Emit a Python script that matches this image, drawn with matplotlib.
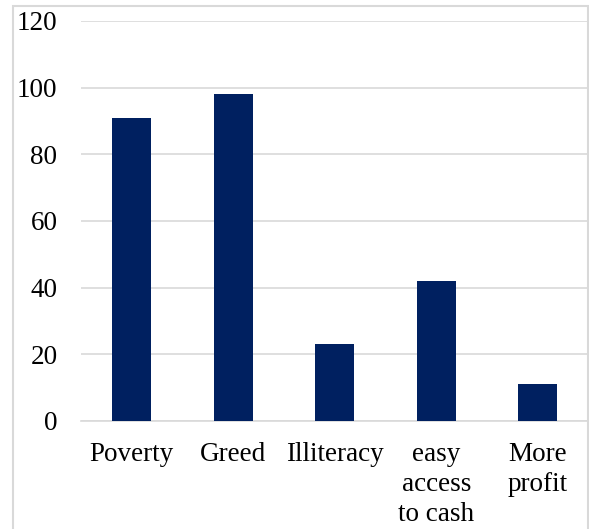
import matplotlib.pyplot as plt
from matplotlib.patches import Rectangle

# Reasons and counts
categories = ["Poverty", "Greed", "Illiteracy", "easy\naccess\nto cash", "More\nprofit"]
counts = [91, 98, 23, 42, 11]
yticks = [0, 20, 40, 60, 80, 100, 120]

plt.rcParams['font.family'] = ['Liberation Serif', 'DejaVu Serif']

fig = plt.figure(figsize=(5.89, 5.29), dpi=100)
ax = fig.add_axes([81 / 589, 1 - 421 / 529, 507.5 / 589, 400 / 529])

x = range(len(categories))
ax.bar(x, counts, width=0.385, color='#002060', zorder=3)

ax.set_xlim(-0.5, len(categories) - 0.5)
ax.set_ylim(0, 120)
ax.set_yticks(yticks)
ax.set_xticks(list(x))
ax.set_xticklabels(categories, fontsize=19.5, linespacing=1.26, va='top')
ax.tick_params(axis='y', labelsize=19.5, length=0, pad=17)
ax.tick_params(axis='x', length=0, pad=15)

ax.grid(axis='y', color='#d9d9d9', linewidth=1.2, zorder=0)
for side in ['top', 'right', 'left']:
    ax.spines[side].set_visible(False)
ax.spines['bottom'].set_color('#d9d9d9')
ax.spines['bottom'].set_linewidth(1.2)

# outer chart border
fig.patches.append(Rectangle((13 / 589, -0.05), 575 / 589, 1.05 - 6 / 529,
                             transform=fig.transFigure, fill=False,
                             edgecolor='#d9d9d9', linewidth=1.5, clip_on=False))

fig.savefig('out.png', dpi=100)
